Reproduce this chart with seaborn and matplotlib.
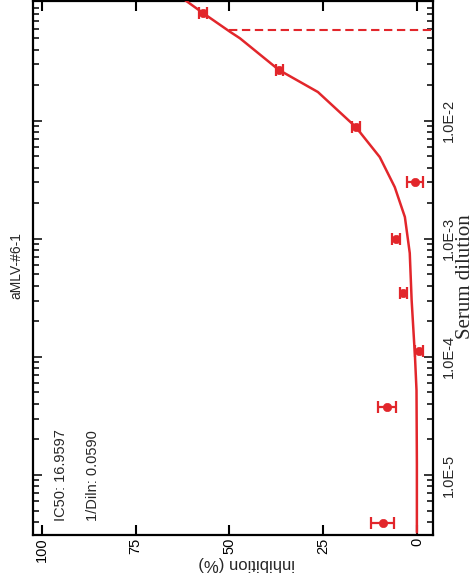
import numpy as np
import pandas as pd
import matplotlib
matplotlib.use("Agg")
import matplotlib.pyplot as plt
from matplotlib.ticker import LogLocator, NullFormatter, FixedLocator, FixedFormatter
import seaborn as sns

# Serum dilution series with mean inhibition (%) and its error
dilution = [0.0818, 0.0269, 0.00889, 0.00304, 0.000993, 0.000345, 0.000112, 3.77e-5, 3.94e-6]
inhibition = [57.1, 36.7, 16.3, 0.5, 5.6, 3.6, -0.6, 8.1, 9.1]
inhibition_err = [1.0, 1.0, 1.0, 2.2, 1.0, 0.9, 1.0, 2.4, 3.1]

# Fitted dose-response curve
curve_dilution = [0.1054, 0.0818, 0.0568, 0.0499, 0.0269, 0.0175, 0.00885, 0.00492,
                  0.00274, 0.00153, 0.000757, 0.000303, 9.95e-5, 5.22e-5, 1.26e-5, 3.27e-6]
curve_inhibition = [61.9, 57.1, 49.9, 47.2, 36.8, 26.4, 16.3, 9.9,
                    5.9, 3.2, 1.9, 1.4, 0.5, 0.1, 0.0, 0.0]

ic50 = 16.9597
title = "aMLV-#6-1"
inhib_ticks = [0, 25, 50, 75, 100]
inhib_labels = ["0", "25", "50", "75", "100"]
dil_ticks = [1e-5, 1e-4, 1e-3, 1e-2]
dil_labels = ["1.0E-5", "1.0E-4", "1.0E-3", "1.0E-2"]

RED = "#e2262b"

sns.set_style("white")
plt.rcParams["font.family"] = ["Liberation Sans", "DejaVu Sans"]

fig = plt.figure(figsize=(4.77, 5.84), dpi=100)
W, H = 477, 584
ax = fig.add_axes([33 / W, 1 - 535 / H, 400 / W, 534.5 / H])

curve = pd.DataFrame({"dilution": curve_dilution, "inhibition": curve_inhibition})
points = pd.DataFrame({"dilution": dilution, "inhibition": inhibition, "err": inhibition_err})

# Plot is laid out turned on its side: dilution runs upward, inhibition runs leftward
sns.lineplot(data=curve, x="inhibition", y="dilution", orient="y", sort=False,
             estimator=None, color=RED, lw=1.8, ax=ax, zorder=3)
ax.errorbar(points["inhibition"], points["dilution"], xerr=points["err"], fmt="none",
            ecolor=RED, elinewidth=1.6, capsize=4.3, capthick=1.6, zorder=4)
sns.scatterplot(data=points, x="inhibition", y="dilution", color=RED, edgecolor=RED,
                s=36, marker="o", ax=ax, zorder=5, legend=False)

# IC50 reference line at the 50 % inhibition dilution
ic50_dilution = 1 / ic50
ax.plot([50, -10], [ic50_dilution, ic50_dilution], color=RED, lw=1.5,
        dashes=(4, 2.2), dash_capstyle="butt", zorder=2)

ax.set_yscale("log")
ax.set_xlim(102.4, -4.3)
ax.set_ylim(10 ** -5.508, 10 ** -0.982)

ax.xaxis.set_major_locator(FixedLocator(inhib_ticks))
ax.xaxis.set_major_formatter(FixedFormatter(inhib_labels))
ax.yaxis.set_major_locator(FixedLocator(dil_ticks))
ax.yaxis.set_major_formatter(FixedFormatter(dil_labels))
ax.yaxis.set_minor_locator(LogLocator(base=10, subs=np.arange(2, 10), numticks=20))
ax.yaxis.set_minor_formatter(NullFormatter())

for s in ax.spines.values():
    s.set_linewidth(1.6)
    s.set_color("black")

ax.tick_params(axis="x", which="major", direction="in", bottom=True, top=True,
               length=7.5, width=1.5, pad=2, labelsize=10.5, labelrotation=90,
               colors="black")
ax.tick_params(axis="y", which="both", direction="in", left=True, right=True,
               labelleft=False, labelright=True, width=1.3, pad=6.5,
               labelsize=10.5, labelrotation=90)
ax.tick_params(axis="y", which="major", length=6.5)
ax.tick_params(axis="y", which="minor", length=4)
for lab in ax.get_yticklabels():
    lab.set_va("center")
    lab.set_ha("left")

ax.set_xlabel("")
ax.set_ylabel("")

fig.text(247 / W, 1 - 564 / H, "inhibition (%)", rotation=180, ha="center",
         va="center", fontsize=12)
fig.text(466 / W, 1 - 277 / H, "Serum dilution", rotation=90, ha="center",
         va="center", fontsize=15, family=["Liberation Serif", "DejaVu Serif"])
fig.text(16 / W, 1 - 266 / H, title, rotation=90, ha="center", va="center",
         fontsize=10)
fig.text(61.5 / W, 1 - 521 / H, f"IC50: {ic50:.4f}", rotation=90, ha="center",
         va="bottom", fontsize=10.5)
fig.text(93.5 / W, 1 - 521 / H, f"1/Diln: {ic50_dilution:.4f}", rotation=90,
         ha="center", va="bottom", fontsize=10.5)

fig.savefig("out.png", dpi=100, facecolor="white")
